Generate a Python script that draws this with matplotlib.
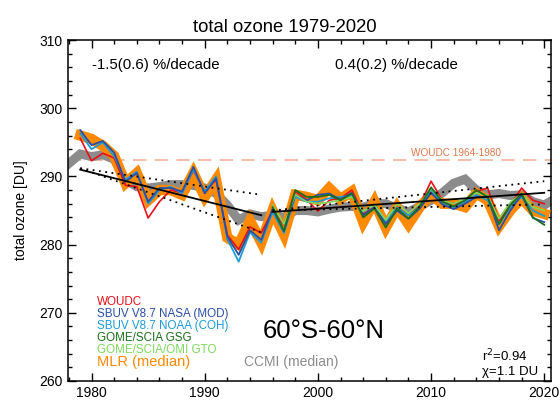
import numpy as np
import matplotlib
matplotlib.use("Agg")
import matplotlib.pyplot as plt
from matplotlib.ticker import MultipleLocator

plt.rcParams['font.family'] = ['Liberation Sans', 'DejaVu Sans']

# years of the satellite / ground records
years = np.arange(1979, 2021)
years_gome = np.arange(1996, 2021)
years_ccmi = np.arange(1978, 2022)

woudc = [295.6, 292.3, 293.4, 292.7, 288.7, 288.5, 283.9, 286.3, 288.0, 287.6,
         290.9, 287.8, 289.5, 281.4, 279.3, 282.6, 281.7, 285.0, 282.9, 287.8,
         286.6, 284.9, 286.5, 286.8, 288.0, 284.5, 285.5, 283.2, 285.5, 284.3,
         285.8, 289.3, 286.5, 286.0, 286.3, 287.8, 288.3, 283.5, 285.8, 288.3,
         286.5, 286.0]
sbuv_nasa = [296.8, 294.6, 295.2, 293.5, 289.2, 290.5, 286.3, 288.3, 288.3, 287.8,
             291.4, 287.5, 289.7, 281.2, 278.5, 282.1, 280.7, 285.3, 282.0, 287.3,
             286.5, 287.3, 287.5, 286.6, 287.6, 284.3, 285.5, 283.0, 285.0, 283.8,
             285.3, 287.6, 285.9, 285.2, 286.0, 287.0, 287.0, 282.1, 285.0, 287.3,
             283.9, 283.3]
sbuv_noaa = [296.3, 294.0, 295.0, 293.0, 289.5, 290.7, 286.0, 288.0, 288.5, 287.5,
             291.0, 287.8, 290.0, 280.8, 277.5, 281.8, 280.3, 284.8, 281.7, 287.0,
             286.3, 286.3, 286.8, 287.0, 287.2, 284.8, 285.9, 283.4, 285.4, 284.3,
             285.5, 288.0, 286.2, 285.5, 286.3, 287.3, 286.5, 283.0, 285.5, 287.0,
             285.0, 284.2]
gome_gsg = [285.5, 282.0, 288.0, 287.0, 287.0, 287.3, 286.5, 287.5, 284.0, 285.3,
            282.5, 285.3, 283.8, 285.6, 288.4, 286.3, 285.6, 286.5, 288.0, 287.0,
            283.0, 285.8, 287.5, 284.0, 282.9]
gto = [285.8, 283.0, 287.3, 286.3, 286.0, 286.2, 286.5, 287.0, 284.9, 285.8,
       283.6, 286.0, 284.6, 286.0, 288.2, 286.5, 286.0, 286.7, 287.6, 287.2,
       283.8, 286.2, 287.5, 285.5, 285.0]
mlr = [296.0, 295.5, 294.5, 293.0, 289.0, 290.5, 286.5, 288.0, 288.0, 287.3,
       290.5, 287.0, 289.5, 281.0, 280.0, 283.5, 280.3, 285.0, 281.5, 287.3,
       287.0, 286.5, 288.3, 286.7, 287.8, 283.3, 286.3, 282.5, 285.5, 283.0,
       285.5, 287.3, 286.0, 286.0, 285.5, 287.5, 286.5, 282.7, 285.0, 286.8,
       285.0, 284.5]
ccmi = [291.9, 293.3, 292.9, 293.2, 292.5, 289.5, 288.5, 288.3, 288.5, 288.8,
        288.8, 288.7, 288.3, 287.5, 285.8, 283.6, 284.5, 284.1, 284.3, 284.0,
        285.0, 285.0, 284.8, 285.2, 285.5, 285.6, 285.5, 286.0, 286.0, 285.3,
        284.8, 285.6, 286.5, 287.6, 289.0, 289.6, 288.0, 287.3, 287.5, 287.2,
        287.3, 286.3, 285.8, 286.8]

# piecewise trends (start, end) and their uncertainty fans
trend1_x = [1979, 1995]
trend1_y = [291.0, 284.3]
trend1_hi = [291.2, 287.3]
trend1_lo = [291.2, 281.8]
trend2_x = [1996, 2020]
trend2_y = [284.8, 287.6]
trend2_hi = [285.0, 289.3]
trend2_lo = [285.0, 285.9]
woudc_ref = 292.4

fig = plt.figure(figsize=(5.6, 4.01), dpi=100)
ax = fig.add_axes([0.121, 0.050, 0.863, 0.850])

ax.axhline(woudc_ref, color='#f0b49a', lw=1.2, dashes=(8, 5))
ax.text(2008.2, 293.4, 'WOUDC 1964-1980', color='#d8784a', fontsize=7.2,
        va='center')

ax.plot(years_ccmi, ccmi, color='#8c8c8c', lw=6.5, solid_joinstyle='miter',
        zorder=2)
ax.plot(years, mlr, color='#ff8a00', lw=7.5, solid_joinstyle='miter', zorder=3)
ax.plot(years, woudc, color='#e8101a', lw=1.2, zorder=4)
ax.plot(years, sbuv_noaa, color='#1e9ad6', lw=1.3, zorder=4)
ax.plot(years, sbuv_nasa, color='#2a4fa5', lw=1.3, zorder=5)
ax.plot(years_gome, gto, color='#7fd760', lw=1.2, zorder=5)
ax.plot(years_gome, gome_gsg, color='#1b6e1b', lw=1.3, zorder=5)

for tx, ty, hi, lo in [(trend1_x, trend1_y, trend1_hi, trend1_lo),
                       (trend2_x, trend2_y, trend2_hi, trend2_lo)]:
    ax.plot(tx, ty, color='black', lw=1.3, zorder=6)
    ax.plot(tx, hi, color='black', lw=1.3, ls=(0, (1, 2.5)), zorder=6)
    ax.plot(tx, lo, color='black', lw=1.3, ls=(0, (1, 2.5)), zorder=6)

ax.set_xlim(1977.9, 2020.6)
ax.set_ylim(260, 310)
ax.xaxis.set_major_locator(MultipleLocator(10))
ax.xaxis.set_minor_locator(MultipleLocator(2))
ax.yaxis.set_major_locator(MultipleLocator(10))
ax.yaxis.set_minor_locator(MultipleLocator(2))
ax.tick_params(which='both', direction='in', top=True, right=True,
               labelsize=10, width=1)
ax.tick_params(which='major', length=6)
ax.tick_params(which='minor', length=3)
for s in ax.spines.values():
    s.set_linewidth(1.1)

ax.set_title('total ozone 1979-2020', fontsize=13.3, x=0.45, pad=6)
ax.set_ylabel('total ozone [DU]', fontsize=10, labelpad=8)

ax.text(1980.0, 306.3, '-1.5(0.6) %/decade', fontsize=10.8, va='center')
ax.text(2001.5, 306.3, '0.4(0.2) %/decade', fontsize=10.8, va='center')

legend_items = [('WOUDC', '#e8101a'),
                ('SBUV V8.7 NASA (MOD)', '#2a4fa5'),
                ('SBUV V8.7 NOAA (COH)', '#1e9ad6'),
                ('GOME/SCIA GSG', '#1b6e1b'),
                ('GOME/SCIA/OMI GTO', '#7fd760')]
for i, (lab, col) in enumerate(legend_items):
    ax.text(1980.5, 271.6 - i * 1.78, lab, color=col, fontsize=8.4,
            va='center')
ax.text(1980.5, 262.8, 'MLR (median)', color='#ff8a00', fontsize=10.5,
        va='center')
ax.text(1993.5, 262.8, 'CCMI (median)', color='#8c8c8c', fontsize=10,
        va='center')

ax.text(1995.1, 267.4, '60°S-60°N', fontsize=18.5, va='center')
ax.text(2014.5, 263.6, 'r$^2$=0.94', fontsize=9.5, va='center')
ax.text(2014.5, 261.3, 'χ=1.1 DU', fontsize=9.5, va='center')

fig.savefig('out.png', dpi=100)
